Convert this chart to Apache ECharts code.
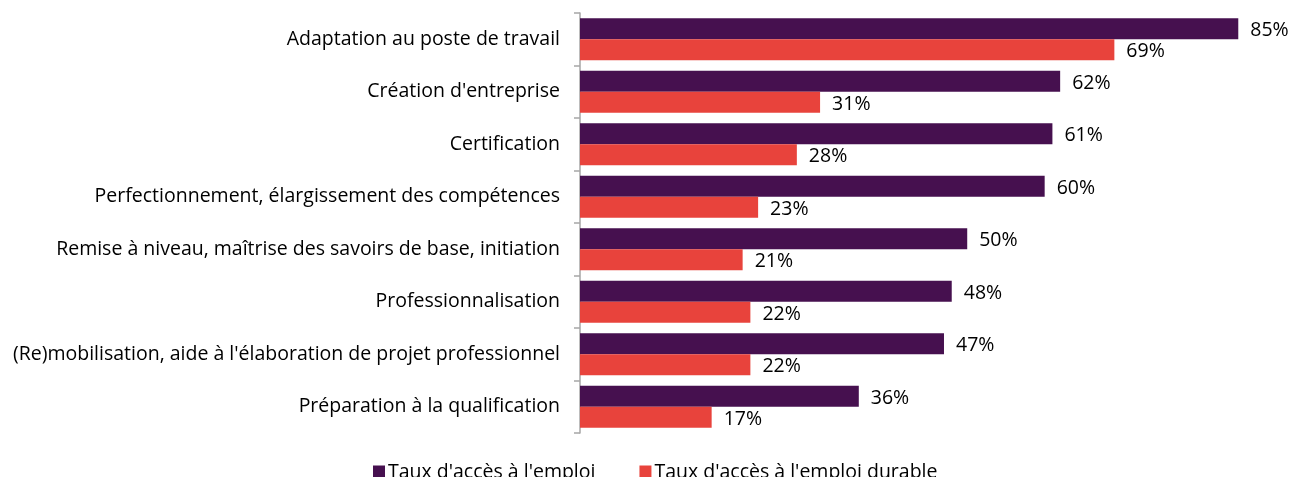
<!DOCTYPE html>
<html>
<head>
<meta charset="utf-8">
<script src="https://cdn.jsdelivr.net/npm/echarts@6/dist/echarts.min.js"></script>
<style>
  html, body { margin: 0; padding: 0; background: #fff; }
  #chart { width: 1293px; height: 477px; }
</style>
</head>
<body>
<div id="chart"></div>
<script>
// catégories (de haut en bas)
const categories = [
  "Adaptation au poste de travail",
  "Création d'entreprise",
  "Certification",
  "Perfectionnement, élargissement des compétences",
  "Remise à niveau, maîtrise des savoirs de base, initiation",
  "Professionnalisation",
  "(Re)mobilisation, aide à l'élaboration de projet professionnel",
  "Préparation à la qualification"
];
// taux d'accès à l'emploi (%)
const tauxEmploi = [85, 62, 61, 60, 50, 48, 47, 36];
// taux d'accès à l'emploi durable (%)
const tauxDurable = [69, 31, 28, 23, 21, 22, 22, 17];

const seriesNames = ["Taux d'accès à l'emploi", "Taux d'accès à l'emploi durable"];
const font = "'Open Sans', 'Noto Sans', sans-serif";

let myChart = echarts.init(document.getElementById("chart"));

// étiquettes de valeur à droite des barres
const labelStyle = {
  show: true,
  position: "right",
  distance: 12,
  offset: [0, 2],
  formatter: "{c}%",
  color: "#000",
  fontSize: 19.5,
  fontFamily: font
};

myChart.setOption({
  animation: false,
  grid: { left: 580, right: 16, top: 13, bottom: 44 },
  legend: {
    bottom: -10,
    left: 368,
    itemWidth: 12,
    itemHeight: 13,
    itemGap: 44,
    icon: "rect",
    textStyle: { fontSize: 19.5, color: "#000", fontFamily: font, padding: [0, 0, 0, -2] },
    data: seriesNames
  },
  xAxis: {
    type: "value",
    min: 0,
    max: 90,
    show: false
  },
  yAxis: {
    type: "category",
    inverse: true,
    data: categories,
    axisLine: { show: true, lineStyle: { color: "#a6a6a6", width: 1.5 } },
    axisTick: { show: true, length: 6, lineStyle: { color: "#a6a6a6", width: 1.5 } },
    axisLabel: { margin: 20, color: "#000", fontSize: 19.5, fontFamily: font }
  },
  series: [
    {
      name: seriesNames[0],
      type: "bar",
      data: tauxEmploi,
      barGap: "0%",
      barCategoryGap: "20%",
      itemStyle: { color: "#46104f" },
      label: labelStyle
    },
    {
      name: seriesNames[1],
      type: "bar",
      data: tauxDurable,
      barGap: "0%",
      barCategoryGap: "20%",
      itemStyle: { color: "#e8433c" },
      label: labelStyle
    }
  ]
});
</script>
</body>
</html>
